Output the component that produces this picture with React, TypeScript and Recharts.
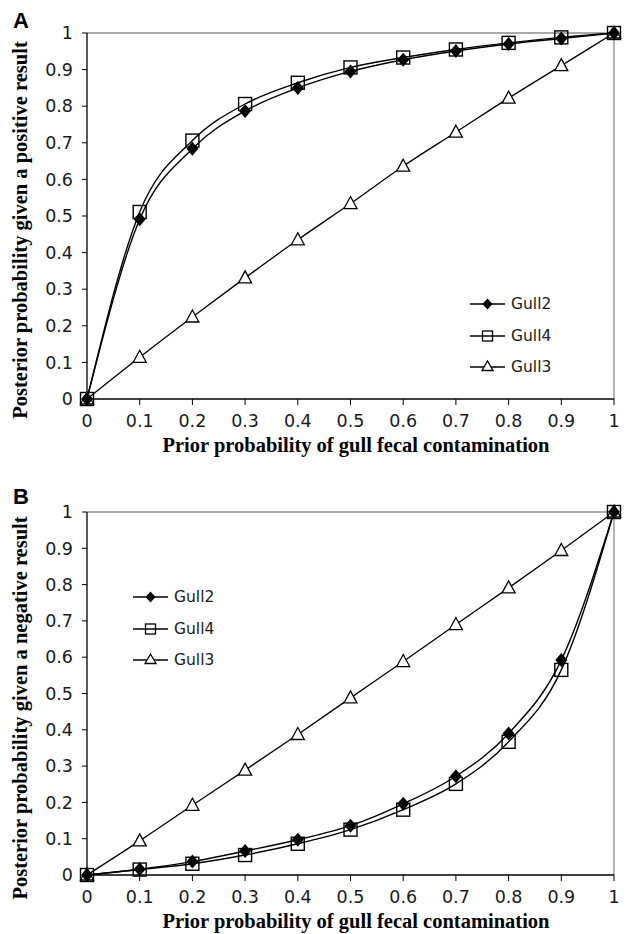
import { LineChart, Line, XAxis, YAxis, ReferenceLine } from "recharts";

// prior probability of gull fecal contamination
const priorProb = [0, 0.1, 0.2, 0.3, 0.4, 0.5, 0.6, 0.7, 0.8, 0.9, 1];
const axisTicks = [0, 0.1, 0.2, 0.3, 0.4, 0.5, 0.6, 0.7, 0.8, 0.9, 1];

// panel A: posterior given a positive result
const posGull2 = [0, 0.491, 0.684, 0.787, 0.85, 0.895, 0.927, 0.951, 0.97, 0.985, 1];
const posGull4 = [0, 0.511, 0.706, 0.806, 0.864, 0.906, 0.933, 0.955, 0.973, 0.988, 1];
const posGull3 = [0, 0.114, 0.224, 0.331, 0.435, 0.534, 0.636, 0.729, 0.822, 0.911, 1];

// panel B: posterior given a negative result
const negGull2 = [0, 0.016, 0.037, 0.066, 0.097, 0.136, 0.196, 0.272, 0.39, 0.592, 1];
const negGull4 = [0, 0.015, 0.031, 0.055, 0.086, 0.125, 0.18, 0.251, 0.367, 0.565, 1];
const negGull3 = [0, 0.094, 0.192, 0.289, 0.387, 0.488, 0.588, 0.69, 0.791, 0.894, 1];

const seriesNames = ["Gull2", "Gull4", "Gull3"];

const build = (a: number[], b: number[], c: number[]) =>
  priorProb.map((p, i) => ({ p, Gull2: a[i], Gull4: b[i], Gull3: c[i] }));

const dataA = build(posGull2, posGull4, posGull3);
const dataB = build(negGull2, negGull4, negGull3);

const TICK_FONT = { fontFamily: "DejaVu Sans", fontSize: 17.5, fill: "#1a1a1a" };
const TITLE_FONT = "Liberation Serif";
const TITLE_SIZE = 20.5;

const Diamond = (props: any) => {
  const { cx, cy, index } = props;
  if (cx == null || cy == null) return null;
  return (
    <path
      key={`d-${index}`}
      d={`M${cx},${cy - 7} L${cx + 6},${cy} L${cx},${cy + 7} L${cx - 6},${cy} Z`}
      fill="#000"
    />
  );
};

const Square = (props: any) => {
  const { cx, cy, index } = props;
  if (cx == null || cy == null) return null;
  return (
    <rect key={`s-${index}`} x={cx - 6.5} y={cy - 6.5} width={13} height={13} fill="none" stroke="#000" strokeWidth={1.4} />
  );
};

const Triangle = (props: any) => {
  const { cx, cy, index } = props;
  if (cx == null || cy == null) return null;
  return (
    <path
      key={`t-${index}`}
      d={`M${cx},${cy - 7} L${cx + 6.5},${cy + 5} L${cx - 6.5},${cy + 5} Z`}
      fill="#fff"
      stroke="#000"
      strokeWidth={1.3}
    />
  );
};

const icon = (name: string) => {
  if (name === "Gull2") return <path d="M17.5,4.5 L22.5,10 L17.5,15.5 L12.5,10 Z" fill="#000" />;
  if (name === "Gull4") return <rect x={12.5} y={5} width={10} height={10} fill="none" stroke="#000" strokeWidth={1.3} />;
  return <path d="M17.5,4 L23,13.5 L12,13.5 Z" fill="#fff" stroke="#000" strokeWidth={1.3} />;
};

const LegendBox = ({ left, top }: { left: number; top: number }) => (
  <div style={{ position: "absolute", left, top, display: "flex", flexDirection: "column", gap: 11.5 }}>
    {seriesNames.map((name) => (
      <div key={name} style={{ display: "flex", alignItems: "center", height: 20 }}>
        <svg width={35} height={20}>
          <line x1={0} y1={10} x2={35} y2={10} stroke="#000" strokeWidth={1.3} />
          {icon(name)}
        </svg>
        <span style={{ fontFamily: "DejaVu Sans", fontSize: 15.5, color: "#1a1a1a", marginLeft: 6 }}>{name}</span>
      </div>
    ))}
  </div>
);

function Panel({
  data,
  height,
  marginTop,
  plotHeight,
  yTitle,
  yTitleCenter,
  xTitleY,
}: {
  data: any[];
  height: number;
  marginTop: number;
  plotHeight: number;
  yTitle: string;
  yTitleCenter: number;
  xTitleY: number;
}) {
  return (
    <LineChart
      width={628}
      height={height}
      data={data}
      margin={{ top: marginTop, right: 14, bottom: height - marginTop - plotHeight - 30, left: 0 }}
    >
      <ReferenceLine y={1} stroke="#8c8c8c" strokeWidth={1.3} />
      <ReferenceLine x={1} stroke="#8c8c8c" strokeWidth={1.3} />
      <XAxis
        dataKey="p"
        type="number"
        domain={[0, 1]}
        ticks={axisTicks}
        height={30}
        tick={TICK_FONT}
        tickSize={6}
        tickMargin={10}
        axisLine={{ stroke: "#000", strokeWidth: 1.3 }}
        tickLine={{ stroke: "#000" }}
        label={{
          content: () => (
            <text x={356} y={xTitleY} textAnchor="middle" fontFamily={TITLE_FONT} fontWeight="bold" fontSize={TITLE_SIZE} fill="#000">
              Prior probability of gull fecal contamination
            </text>
          ),
        }}
      />
      <YAxis
        type="number"
        domain={[0, 1]}
        ticks={axisTicks}
        width={87}
        tick={TICK_FONT}
        tickSize={5}
        tickMargin={9}
        axisLine={{ stroke: "#000", strokeWidth: 1.3 }}
        tickLine={{ stroke: "#000" }}
        label={{
          content: () => (
            <text
              x={20}
              y={yTitleCenter}
              transform={`rotate(-90 20 ${yTitleCenter})`}
              textAnchor="middle"
              dominantBaseline="central"
              fontFamily={TITLE_FONT}
              fontWeight="bold"
              fontSize={TITLE_SIZE}
              fill="#000"
            >
              {yTitle}
            </text>
          ),
        }}
      />
      <Line type="monotone" dataKey="Gull3" stroke="#000" strokeWidth={1.3} dot={Triangle} isAnimationActive={false} />
      <Line type="monotone" dataKey="Gull4" stroke="#000" strokeWidth={1.4} dot={Square} isAnimationActive={false} />
      <Line type="monotone" dataKey="Gull2" stroke="#000" strokeWidth={1.4} dot={Diamond} isAnimationActive={false} />
    </LineChart>
  );
}

export default function App() {
  return (
    <div style={{ position: "absolute", left: 0, top: 0, width: 628, height: 934, background: "#fff", overflow: "hidden" }}>
      <div style={{ position: "absolute", left: 0, top: 0 }}>
        <Panel
          data={dataA}
          height={460}
          marginTop={33}
          plotHeight={366}
          yTitle="Posterior probability given a positive result"
          yTitleCenter={230}
          xTitleY={452}
        />
      </div>
      <div style={{ position: "absolute", left: 0, top: 470 }}>
        <Panel
          data={dataB}
          height={464}
          marginTop={42}
          plotHeight={363}
          yTitle="Posterior probability given a negative result"
          yTitleCenter={238}
          xTitleY={458}
        />
      </div>
      <div style={{ position: "absolute", left: 13, top: 8, fontFamily: "Liberation Sans", fontWeight: "bold", fontSize: 22 }}>A</div>
      <div style={{ position: "absolute", left: 13, top: 484, fontFamily: "Liberation Sans", fontWeight: "bold", fontSize: 22 }}>B</div>
      <LegendBox left={470} top={294} />
      <LegendBox left={133} top={587} />
    </div>
  );
}
